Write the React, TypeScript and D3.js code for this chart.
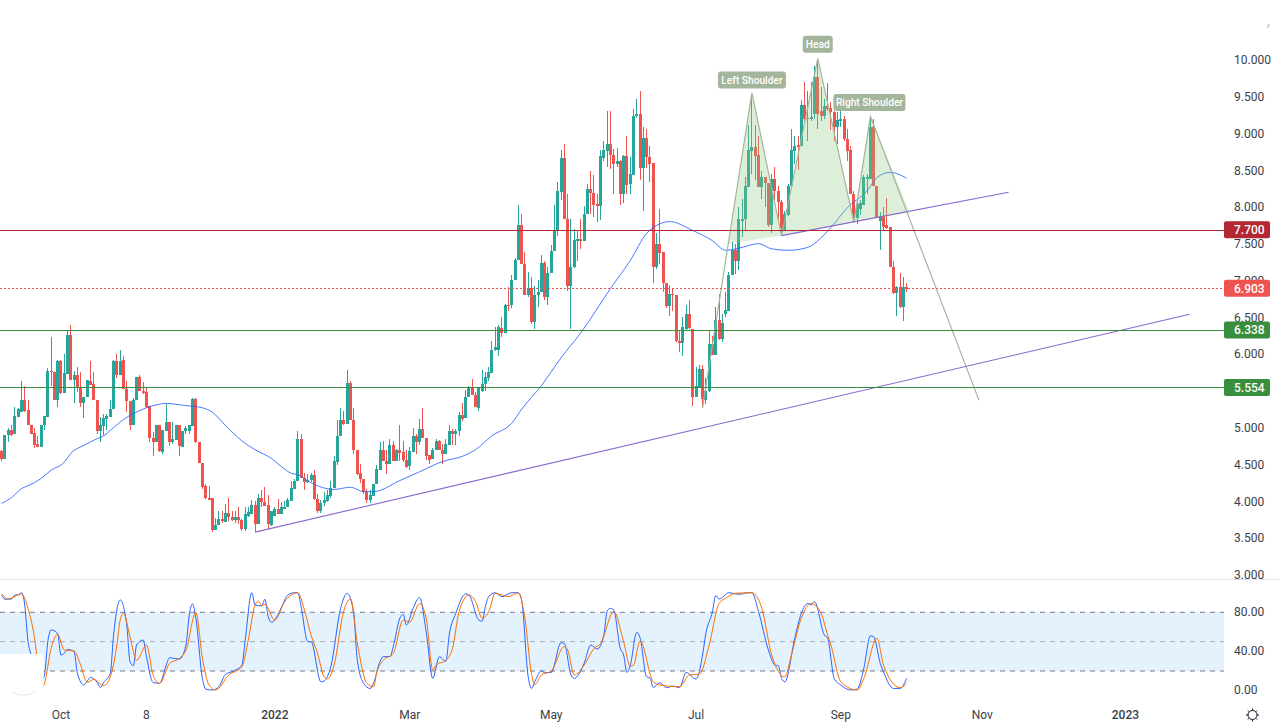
import { useEffect, useRef } from 'react';
import * as d3 from 'd3';

const opens = [
  4.69,4.58,4.91,4.98,4.93,5.16,5.22,5.38,5.25,5.05,
  4.94,4.79,4.74,5.04,5.16,5.78,5.77,5.39,5.91,5.48,
  5.74,6.27,5.66,5.72,5.55,5.35,5.42,5.65,5.60,5.39,
  4.96,5.03,5.13,5.16,5.26,5.91,5.72,5.93,5.54,5.37,
  5.05,5.38,5.70,5.51,5.49,5.31,4.87,4.81,5.04,4.68,
  4.97,5.09,4.82,4.84,5.04,4.75,4.97,4.97,5.03,5.40,
  4.81,4.53,4.21,4.05,4.05,3.62,3.68,3.77,3.73,3.85,
  3.80,3.75,3.80,3.76,3.63,3.81,3.84,3.96,3.70,4.06,
  4.00,3.96,3.69,3.81,3.90,3.83,3.90,3.93,4.01,4.18,
  4.28,4.86,4.33,4.27,4.30,4.37,4.04,3.88,3.98,4.01,
  4.08,4.19,4.54,4.89,5.11,5.06,5.61,5.11,4.71,4.39,
  4.31,4.14,4.02,4.08,4.24,4.44,4.70,4.56,4.52,4.78,
  4.56,4.70,4.68,4.57,4.49,4.68,4.89,4.81,4.99,4.87,
  4.64,4.58,4.70,4.83,4.71,4.65,4.78,4.96,4.92,4.96,
  5.18,5.14,5.43,5.55,5.46,5.27,5.51,5.60,5.69,5.75,
  6.07,6.06,6.37,6.29,6.68,6.67,7.01,7.29,7.76,7.24,
  6.81,6.91,6.44,6.81,6.85,7.25,6.79,7.11,7.41,7.68,
  8.21,8.68,7.85,6.94,7.20,7.55,7.58,7.54,7.91,8.26,
  8.20,8.05,8.02,8.68,8.77,8.87,8.72,8.60,8.64,8.18,
  8.70,8.32,8.45,9.24,9.27,8.54,8.94,8.69,8.61,7.20,
  7.50,7.40,6.98,6.66,6.82,6.81,6.19,6.16,6.35,6.56,
  6.35,5.43,5.56,5.81,5.39,5.51,6.14,6.00,6.47,6.22,
  6.55,6.60,7.08,7.42,7.27,7.82,7.84,8.28,8.77,8.83,
  8.71,8.28,8.41,8.33,7.76,8.39,8.22,8.07,7.70,7.90,
  8.29,8.77,8.85,8.84,9.39,9.22,9.20,9.27,9.78,9.32,
  9.25,9.38,9.36,9.30,9.10,9.18,9.21,8.93,8.78,8.19,
  7.86,7.98,8.04,8.39,8.39,9.10,8.30,7.82,7.88,7.76,
  7.74,7.20,6.84,6.92,6.65,6.92,
];
const highs = [
  4.70,4.91,5.01,5.04,5.29,5.28,5.64,5.58,5.39,5.05,
  5.01,4.89,5.04,5.17,5.82,6.24,5.77,5.93,5.93,6.01,
  6.32,6.41,5.78,5.83,5.76,5.43,5.66,5.92,5.76,5.39,
  5.16,5.20,5.19,5.38,5.93,6.01,6.06,5.99,5.64,5.37,
  5.41,5.70,5.72,5.63,5.55,5.31,4.95,5.04,5.05,4.98,
  5.33,5.09,5.08,5.04,5.04,4.97,5.03,5.05,5.41,5.41,
  4.82,4.53,4.25,4.22,4.05,3.78,3.88,3.88,3.97,4.05,
  3.88,3.88,3.93,3.77,3.93,3.93,4.02,4.01,4.11,4.16,
  4.20,4.09,3.88,3.93,4.04,4.00,4.01,4.05,4.29,4.31,
  4.96,4.92,4.40,4.38,4.40,4.43,4.11,4.03,4.13,4.16,
  4.29,4.63,5.11,5.27,5.24,5.79,5.65,5.27,4.71,4.52,
  4.31,4.18,4.16,4.25,4.50,4.81,4.83,4.70,4.86,4.83,
  4.72,5.05,4.83,4.70,4.75,5.00,4.93,5.13,5.27,4.87,
  4.64,4.73,4.86,4.84,4.79,4.86,5.04,4.99,4.99,5.22,
  5.35,5.52,5.58,5.67,5.50,5.56,5.80,5.76,5.83,6.19,
  6.38,6.40,6.51,6.69,6.92,7.09,7.32,8.04,7.92,7.40,
  7.13,7.06,6.94,7.01,7.36,7.27,7.20,7.49,8.03,8.35,
  8.78,8.86,8.18,7.85,7.71,7.70,7.84,8.02,8.32,8.50,
  8.45,8.19,8.79,8.90,9.32,9.32,8.80,8.81,8.65,8.72,
  8.97,8.69,9.34,9.47,9.59,9.09,9.07,8.84,8.61,7.66,
  7.98,7.40,6.98,6.95,6.91,6.81,6.32,6.52,6.67,6.75,
  6.35,5.84,5.86,5.86,5.69,6.33,6.25,6.65,6.83,6.56,
  6.86,7.12,7.53,7.51,8.01,8.12,8.41,9.12,9.55,9.12,
  8.98,8.50,8.42,8.33,8.46,8.55,8.30,8.10,7.96,8.32,
  9.07,8.98,8.98,9.46,9.71,9.59,9.71,9.93,10.02,9.64,
  9.48,9.69,9.43,9.32,9.30,9.39,9.25,9.07,8.84,8.23,
  8.10,8.10,8.45,8.46,9.24,9.20,8.30,7.94,8.01,8.13,
  7.74,7.28,6.93,7.11,7.06,6.97,
];
const lows = [
  4.55,4.58,4.81,4.90,4.93,5.16,5.22,5.22,5.04,4.92,
  4.73,4.74,4.74,4.98,5.16,5.58,5.38,5.29,5.47,5.48,
  5.74,5.66,5.35,5.50,5.29,5.14,5.42,5.59,5.39,4.93,
  4.81,4.91,4.98,5.16,5.26,5.68,5.72,5.53,5.22,4.98,
  5.05,5.38,5.51,5.47,5.28,4.81,4.63,4.81,4.68,4.65,
  4.97,4.76,4.79,4.84,4.63,4.75,4.93,4.92,5.03,4.80,
  4.53,4.17,4.04,4.02,3.59,3.62,3.68,3.72,3.73,3.74,
  3.74,3.72,3.70,3.61,3.61,3.80,3.84,3.59,3.70,3.93,
  3.94,3.63,3.67,3.81,3.83,3.83,3.90,3.93,4.01,4.18,
  4.28,4.32,4.16,4.26,4.27,4.03,3.85,3.85,3.95,4.00,
  4.05,4.19,4.50,4.89,5.04,5.06,5.11,4.65,4.36,4.26,
  4.11,3.98,3.98,4.08,4.24,4.44,4.56,4.38,4.52,4.55,
  4.56,4.55,4.54,4.46,4.43,4.68,4.65,4.78,4.87,4.57,
  4.52,4.58,4.70,4.70,4.52,4.65,4.77,4.77,4.78,4.90,
  5.10,5.14,5.43,5.45,5.29,5.24,5.49,5.51,5.64,5.75,
  6.05,5.98,6.24,6.29,6.59,6.64,7.01,7.29,7.24,6.81,
  6.79,6.42,6.35,6.65,6.85,6.74,6.67,7.11,7.41,7.61,
  8.10,7.84,6.87,6.35,7.18,7.28,7.44,7.54,7.91,7.92,
  7.87,7.80,7.83,8.64,8.55,8.53,8.19,8.55,8.04,8.06,
  8.19,8.19,8.45,9.22,8.37,7.96,8.54,8.35,6.97,7.17,
  7.24,6.85,6.63,6.53,6.60,6.17,6.04,5.99,6.33,6.35,
  5.31,5.43,5.56,5.28,5.33,5.50,6.00,6.00,6.20,6.17,
  6.51,6.60,7.08,7.10,7.15,7.60,7.69,8.28,8.46,8.37,
  8.28,8.12,8.01,7.74,7.66,8.10,7.83,7.62,7.68,7.88,
  8.28,8.60,8.51,8.84,9.18,8.91,9.18,9.20,9.07,9.18,
  9.21,9.32,9.05,8.91,8.87,9.10,8.91,8.64,8.18,7.80,
  7.78,7.90,8.04,8.18,8.39,8.29,7.86,7.42,7.70,7.71,
  7.19,6.83,6.53,6.63,6.46,6.86,
];
const closes = [
  4.58,4.91,4.98,4.91,5.17,5.26,5.38,5.24,5.04,4.92,
  4.78,4.74,5.04,5.17,5.78,5.76,5.38,5.91,5.48,5.75,
  6.27,5.66,5.72,5.55,5.35,5.43,5.66,5.59,5.39,4.96,
  5.04,5.14,5.17,5.26,5.91,5.72,5.91,5.54,5.37,5.05,
  5.39,5.70,5.51,5.48,5.29,4.87,4.81,5.04,4.69,4.98,
  5.09,4.82,4.86,5.04,4.76,4.97,5.01,5.04,5.40,4.81,
  4.53,4.20,4.05,4.03,3.62,3.69,3.77,3.74,3.85,3.80,
  3.76,3.80,3.75,3.63,3.83,3.86,3.96,3.70,4.06,4.00,
  3.94,3.70,3.87,3.91,3.83,3.93,3.93,4.02,4.19,4.28,
  4.86,4.33,4.27,4.30,4.37,4.04,3.88,3.98,4.02,4.09,
  4.19,4.55,4.90,5.11,5.06,5.61,5.11,4.70,4.38,4.31,
  4.13,4.02,4.09,4.25,4.45,4.70,4.56,4.51,4.78,4.56,
  4.70,4.67,4.57,4.48,4.69,4.89,4.81,4.99,4.87,4.63,
  4.57,4.71,4.83,4.70,4.65,4.79,4.97,4.92,4.97,5.18,
  5.13,5.43,5.55,5.45,5.29,5.55,5.60,5.70,5.76,6.07,
  6.10,6.38,6.29,6.68,6.67,7.02,7.29,7.76,7.24,6.81,
  6.91,6.44,6.81,6.85,7.25,6.79,7.11,7.41,7.68,8.22,
  8.68,7.84,6.94,7.20,7.56,7.58,7.54,7.92,8.26,8.20,
  8.04,8.02,8.70,8.78,8.87,8.71,8.60,8.64,8.18,8.70,
  8.31,8.46,9.25,9.27,8.54,8.94,8.69,8.60,7.20,7.50,
  7.39,6.97,6.66,6.82,6.81,6.19,6.16,6.38,6.56,6.36,
  5.43,5.57,5.81,5.40,5.51,6.14,6.00,6.47,6.22,6.43,
  6.61,7.09,7.42,7.27,7.84,7.85,8.29,8.78,8.83,8.70,
  8.28,8.41,8.33,7.76,8.39,8.22,8.07,7.72,7.91,8.30,
  8.78,8.84,8.83,9.39,9.21,9.20,9.23,9.78,9.27,9.25,
  9.38,9.34,9.30,9.10,9.19,9.21,8.93,8.77,8.18,7.86,
  8.05,8.06,8.41,8.42,9.10,8.29,7.86,7.88,7.74,7.73,
  7.19,6.84,6.92,6.65,6.92,6.90,
];

// moving average, [bar, price]
const maLine: [number, number][] = [
  [0,3.98],[3,4.06],[6,4.18],[8,4.22],[12,4.32],[15,4.43],[19,4.54],[21,4.66],[25,4.77],[29,4.86],
  [31,4.90],[34,5.01],[37,5.12],[40,5.20],[44,5.28],[47,5.32],[50,5.34],[54,5.32],[58,5.30],[61,5.28],
  [64,5.22],[68,5.04],[73,4.83],[77,4.71],[82,4.59],[85,4.48],[88,4.39],[90,4.37],[94,4.26],[101,4.17],
  [106,4.20],[110,4.14],[113,4.14],[121,4.29],[127,4.41],[134,4.55],[140,4.62],[144,4.71],[149,4.90],
  [155,5.07],[158,5.26],[164,5.58],[170,5.96],[176,6.30],[185,6.90],[191,7.28],[196,7.65],[200,7.78],
  [203,7.81],[210,7.69],[216,7.55],[220,7.42],[225,7.46],[230,7.51],[234,7.44],[239,7.42],[245,7.46],
  [249,7.59],[252,7.73],[257,8.00],[263,8.23],[266,8.41],[270,8.48],[275,8.40],
];

// stochastic %K and %D, [bar, value]
const stochK: [number, number][] = [
  [0,97.7],[1,93.3],[3,93.6],[4,97.7],[5,97.7],[6,100],[7,87.5],[8,50],[9,36],[10,20],[11,6],[13,16],
  [14,50],[15,62],[17,58.5],[18,36.4],[19,38],[20,42],[22,39.8],[23,17.6],[25,5.7],[26,9.8],[27,13.5],
  [29,8.4],[30,3],[31,8.4],[33,17.6],[34,56.8],[36,92.6],[38,67],[39,29.5],[40,25.4],[41,46.6],[43,51.7],
  [44,34.7],[46,8.4],[48,7.4],[50,26],[51,33.6],[54,32.3],[56,46.6],[57,77.3],[58,88.5],[59,73.9],[61,12.5],
  [62,1.6],[64,0.6],[66,4],[68,16.6],[70,19.3],[73,26],[74,51.7],[76,100],[77,87.5],[79,86.5],[80,93.3],
  [81,75.6],[82,69.8],[84,78],[85,85],[87,97.7],[89,100],[90,100],[91,85.8],[93,50],[94,50],[97,9],[98,9.8],
  [100,24.4],[103,84],[105,99.4],[107,79],[108,33],[110,7.4],[112,2.2],[113,7.4],[115,30],[116,34.7],
  [118,34.7],[119,45],[121,74],[122,78],[123,67],[125,84],[127,95],[129,60],[131,12.5],[133,34.7],[135,30],
  [136,56.8],[138,79],[141,98.8],[142,97.7],[145,72],[146,71],[147,85.8],[148,96],[150,100],[152,96],
  [155,100],[157,100],[158,92.6],[160,14],[161,2.2],[162,9],[164,20.3],[165,18.3],[167,18.6],[170,49],
  [171,48],[173,16],[174,12.5],[177,27.8],[179,46.6],[181,42.5],[183,56.8],[184,81.4],[185,84],[186,82.4],
  [188,43],[189,36.4],[190,18.6],[191,25.4],[193,59.5],[194,54],[196,14],[197,13],[198,3.3],[200,8],[202,3],
  [204,4.6],[206,3],[208,18.6],[211,11.8],[213,36.4],[214,58.5],[216,80.7],[217,97],[218,93.6],[221,100],
  [224,98.4],[227,100],[228,100],[230,80.7],[233,41.5],[235,26],[236,25.4],[237,12.5],[238,9],[241,53.4],
  [243,79],[245,89],[246,87.5],[247,91],[250,56.8],[251,53.4],[253,12.5],[255,5.7],[258,0.6],[260,1.6],
  [262,22.7],[264,56],[265,55],[267,27.8],[268,19],[271,2.2],[273,2.2],[275,12.5],
];
const stochD: [number, number][] = [
  [0,98.8],[2,93.6],[6,98.8],[8,84],[10,53.4],[12,2],[13,7.4],[15,43],[17,57.5],[19,41.5],[22,40.5],[24,26],
  [26,8.4],[28,11.5],[31,5],[33,14],[35,46.6],[36,72],[37,79],[39,55],[41,31],[44,46.6],[46,16],[48,7.4],
  [51,27.8],[54,33],[56,41],[59,80],[61,33],[63,5.7],[65,0.6],[69,16],[73,24.4],[75,53],[77,87.5],[78,91.6],
  [79,87],[80,88],[83,72],[86,91],[90,100],[92,82.4],[94,56.8],[96,38],[98,14],[99,12],[101,26],[104,82],
  [106,93.6],[108,50],[111,7.4],[113,4],[114,19],[116,31],[119,38],[122,72],[124,70],[127,89],[129,74],
  [131,21],[132,26],[135,31],[137,43],[139,80.7],[142,97.7],[144,91],[146,74],[148,80.7],[150,99.4],[154,96],
  [157,100],[159,74],[161,17.6],[162,6],[164,16],[167,20],[171,45],[172,41.5],[174,16],[177,26],[180,43],
  [182,48],[186,80.7],[189,50],[191,25],[192,26],[194,50.7],[198,9],[200,5.7],[206,4],[209,16],[212,16.6],
  [215,46.6],[218,89],[220,94.3],[223,99.4],[228,100],[231,84],[234,36.4],[238,14],[240,36.4],[243,74],
  [246,89],[249,79],[251,56.8],[252,46.6],[255,9],[260,0.6],[262,12.5],[266,53.4],[268,26],[273,3],[275,7.4],
];

// trend lines and the head and shoulders drawing, [bar, price]
const lowerTrend: [number, number][] = [[77,3.59],[361,6.55]];
const neckTrend: [number, number][] = [[237,7.62],[306,8.21]];
const patternLine: [number, number][] = [[213,5.28],[228,9.56],[237,7.62],[248,10.03],[259,7.80],[264,9.24],[297,5.38]];
const patternFills: [number, number][][] = [
  [[221,7.51],[228,9.56],[237,7.62]],
  [[237,7.62],[248,10.03],[259,7.80]],
  [[259,7.80],[264,9.24],[276,7.93]],
];
const patternLabels = [
  { text: 'Left Shoulder', bar: 228, price: 9.735, w: 68 },
  { text: 'Head', bar: 248, price: 10.22, w: 30 },
  { text: 'Right Shoulder', bar: 263.7, price: 9.43, w: 72 },
];

// 5.500 sits fully behind the 5.554 tag, as in the picture
const priceTicks = [3, 3.5, 4, 4.5, 5, 6, 6.5, 7, 7.5, 8, 8.5, 9, 9.5, 10];
const stochTicks = [0, 40, 80];
const timeLabels: [number, string][] = [[18,'Oct'],[44,'8'],[83,'2022'],[124,'Mar'],[167,'May'],[211,'Jul'],[255,'Sep'],[298,'Nov'],[341.5,'2023']];
const levels = [
  { price: 7.7, color: '#b22833', dash: '' },
  { price: 6.903, color: '#ef5350', dash: '1.5,2.5' },
  { price: 6.338, color: '#388e3c', dash: '' },
  { price: 5.554, color: '#388e3c', dash: '' },
];

const UP = '#26a69a';
const DOWN = '#ef5350';
const FONT = 'Roboto, "Open Sans", sans-serif';

export default function App() {
  const svgRef = useRef<SVGSVGElement>(null);

  useEffect(() => {
    if (!svgRef.current) return;
    d3.select(svgRef.current).selectAll('*').remove();
    const svg = d3.select(svgRef.current).style('font-family', FONT);

    const plotRight = 1224;
    const x = d3.scaleLinear().domain([0, 275]).range([1.7, 906.6]);
    const y = d3.scaleLinear().domain([3, 10]).range([575.5, 60.5]);
    const ys = d3.scaleLinear().domain([0, 80]).range([690.6, 612.3]);

    svg.append('rect').attr('width', 1280).attr('height', 728).attr('fill', '#fff');

    // Candles
    const bars = svg.append('g').attr('shape-rendering', 'crispEdges');
    closes.forEach((c, i) => {
      const o = opens[i];
      const color = c >= o ? UP : DOWN;
      const cx = Math.round(x(i) - 0.5);
      bars.append('rect').attr('x', cx).attr('width', 1)
        .attr('y', y(highs[i])).attr('height', Math.max(1, y(lows[i]) - y(highs[i])))
        .attr('fill', color);
      bars.append('rect').attr('x', cx - 1).attr('width', 3)
        .attr('y', y(Math.max(o, c))).attr('height', Math.max(1, Math.abs(y(o) - y(c))))
        .attr('fill', color);
    });

    const priceLine = d3.line<[number, number]>().x(d => x(d[0])).y(d => y(d[1]));

    // Moving average
    svg.append('path')
      .attr('d', d3.line<[number, number]>().x(d => x(d[0])).y(d => y(d[1])).curve(d3.curveMonotoneX)(maLine))
      .attr('fill', 'none').attr('stroke', '#2962ff').attr('stroke-opacity', 0.85).attr('stroke-width', 1);

    // Head and shoulders
    patternFills.forEach(poly => {
      svg.append('path').attr('d', priceLine(poly) + 'Z').attr('fill', '#8fcb80').attr('fill-opacity', 0.3);
    });
    svg.append('path').attr('d', priceLine(patternLine))
      .attr('fill', 'none').attr('stroke', '#a3b59a').attr('stroke-width', 1.2);

    // Trend lines
    [lowerTrend, neckTrend].forEach(t => {
      svg.append('path').attr('d', priceLine(t)).attr('fill', 'none').attr('stroke', '#8a68cf').attr('stroke-width', 1.1);
    });

    // Level lines
    levels.forEach(l => {
      const ly = Math.floor(y(l.price) + 0.3) + 0.5;
      svg.append('line').attr('x1', 0).attr('x2', plotRight)
        .attr('y1', ly).attr('y2', ly).attr('shape-rendering', 'crispEdges')
        .attr('stroke', l.color).attr('stroke-dasharray', l.dash || null);
    });

    // Pattern labels
    patternLabels.forEach(l => {
      const g = svg.append('g').attr('transform', `translate(${x(l.bar)},${y(l.price)})`);
      g.append('rect').attr('x', -l.w / 2).attr('y', -8.5).attr('width', l.w).attr('height', 17)
        .attr('rx', 3).attr('fill', '#a3b59a');
      g.append('text').attr('text-anchor', 'middle').attr('y', 3.8).attr('font-size', 10.2).attr('font-weight', 500)
        .attr('fill', '#fff').text(l.text);
    });

    // Price axis
    priceTicks.forEach(t => {
      svg.append('text').attr('x', 1234).attr('y', y(t) - 0.5).attr('dy', '0.35em')
        .attr('font-size', 12).attr('fill', '#3a3e4a').text(t.toFixed(3));
    });
    levels.forEach(l => {
      svg.append('rect').attr('x', plotRight).attr('y', y(l.price) - 8.5).attr('width', 46).attr('height', 17)
        .attr('rx', 2).attr('fill', l.color);
      svg.append('text').attr('x', 1234).attr('y', y(l.price)).attr('dy', '0.35em')
        .attr('font-size', 12).attr('font-weight', 500).attr('fill', '#fff').text(l.price.toFixed(3));
    });

    // Pane separator
    svg.append('line').attr('x1', 0).attr('x2', 1280).attr('y1', 579.5).attr('y2', 579.5).attr('stroke', '#e0e3eb');

    // Stochastic band
    svg.append('rect').attr('x', 0).attr('width', plotRight)
      .attr('y', ys(80)).attr('height', ys(20) - ys(80)).attr('fill', '#e3f2fd');
    [[80, '#787b86'], [50, '#a8abb5'], [20, '#787b86']].forEach(([v, c]) => {
      svg.append('line').attr('x1', 0).attr('x2', plotRight)
        .attr('y1', ys(v as number)).attr('y2', ys(v as number))
        .attr('stroke', c as string).attr('stroke-dasharray', '5,5');
    });
    const stochLine = d3.line<[number, number]>().x(d => x(d[0])).y(d => ys(d[1])).curve(d3.curveMonotoneX);
    svg.append('path').attr('d', stochLine(stochK)).attr('fill', 'none').attr('stroke', '#2962ff').attr('stroke-width', 1);
    svg.append('path').attr('d', stochLine(stochD)).attr('fill', 'none').attr('stroke', '#ff6d00').attr('stroke-width', 1);
    stochTicks.forEach(t => {
      svg.append('text').attr('x', 1234).attr('y', ys(t) - 0.5).attr('dy', '0.35em')
        .attr('font-size', 12).attr('fill', '#3a3e4a').text(t.toFixed(2));
    });

    // Patch over the logo corner
    svg.append('rect').attr('x', 0).attr('y', 654).attr('width', 43.5).attr('height', 46).attr('fill', '#fff');
    svg.append('path').attr('d', 'M12,692 A22,22 0 0 0 35,692').attr('fill', 'none').attr('stroke', '#e8e8e8');

    // Small mark at the top of the price axis
    svg.append('line').attr('x1', 1269).attr('y1', 24).attr('x2', 1267.5).attr('y2', 28).attr('stroke', '#a0a3ab');

    // Time axis
    timeLabels.forEach(([b, s]) => {
      svg.append('text').attr('x', x(b)).attr('y', 719).attr('text-anchor', 'middle')
        .attr('font-size', 12).attr('font-weight', s === '2022' || s === '2023' ? 500 : 400)
        .attr('fill', '#3a3e4a').text(s);
    });

    // Settings gear
    const gear = svg.append('g').attr('transform', 'translate(1252.5,715)').attr('stroke', '#131722').attr('fill', 'none');
    gear.append('circle').attr('r', 4.5);
    d3.range(8).forEach(k => {
      const a = (k * Math.PI) / 4;
      gear.append('line').attr('x1', 4.5 * Math.cos(a)).attr('y1', 4.5 * Math.sin(a))
        .attr('x2', 6.5 * Math.cos(a)).attr('y2', 6.5 * Math.sin(a));
    });
  }, []);

  return (
    <svg ref={svgRef} width={1280} height={728} style={{ position: 'absolute', left: 0, top: 0, display: 'block' }} />
  );
}
